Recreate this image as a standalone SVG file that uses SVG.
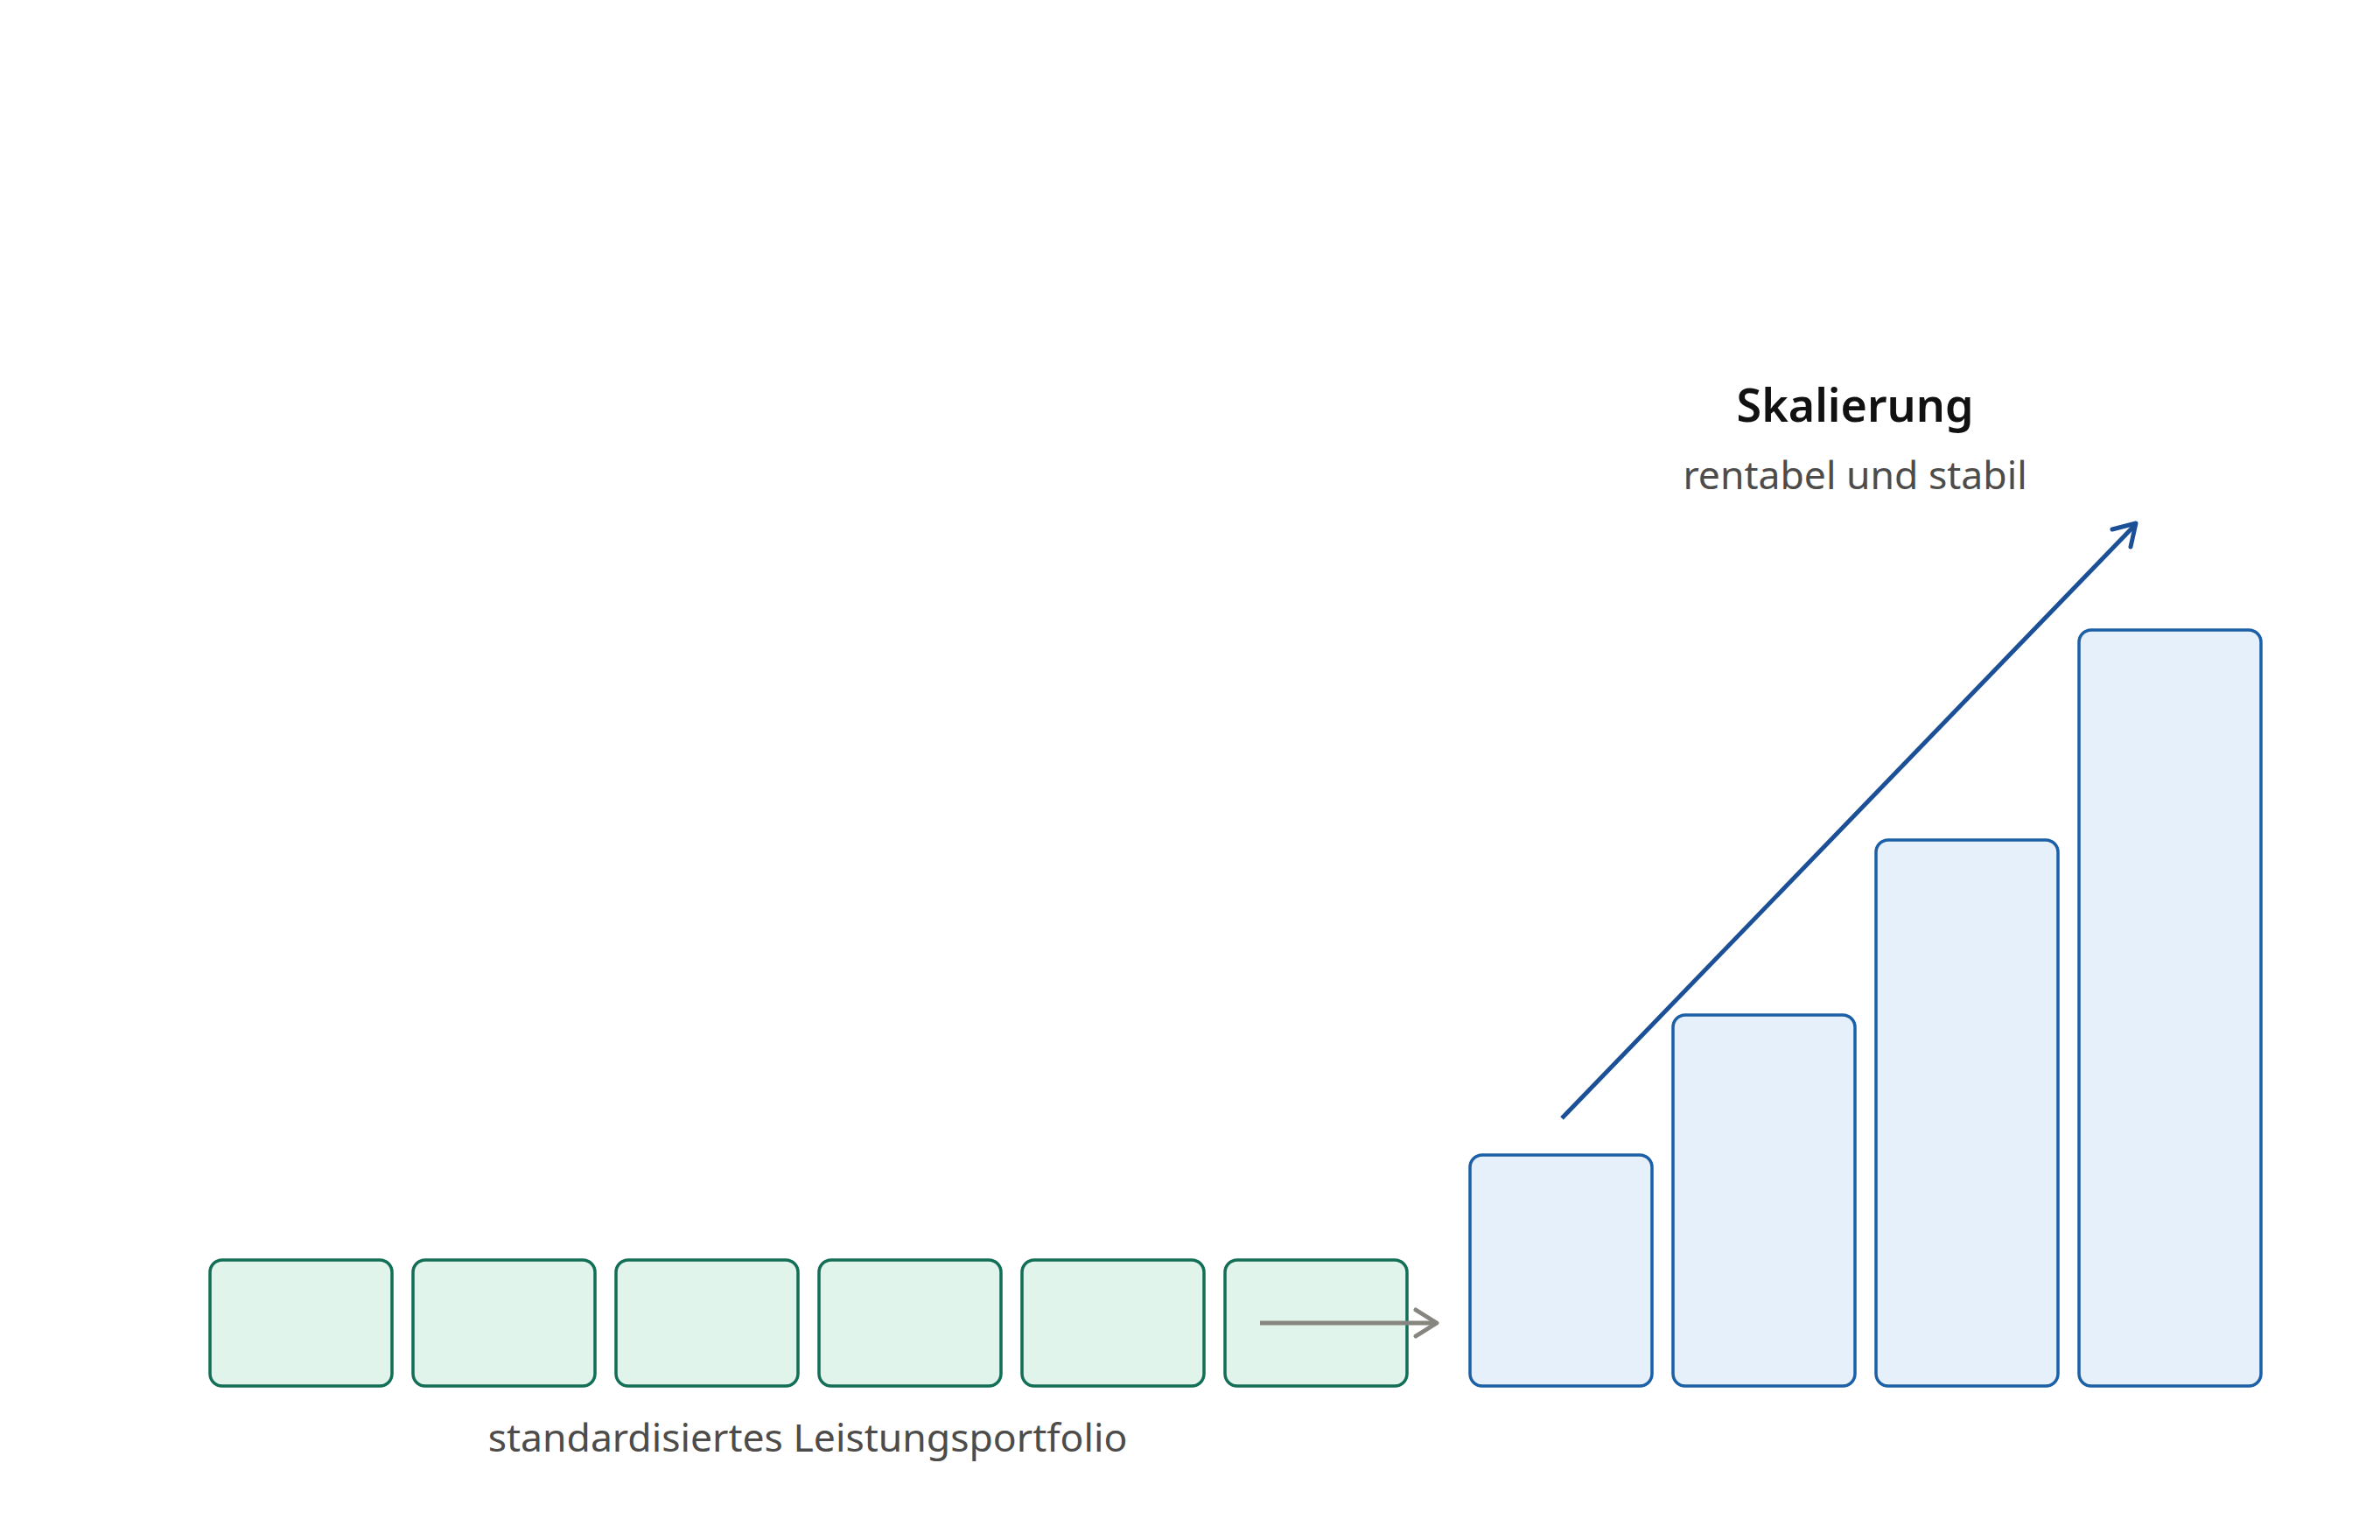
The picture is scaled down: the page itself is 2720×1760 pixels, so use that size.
<svg xmlns="http://www.w3.org/2000/svg" width="2720" height="1760" viewBox="0 0 2720 1760">
  <defs>
    <style>
      .g { fill: #e0f4ec; stroke: #126e54; stroke-width: 3.5; }
      .b { fill: #e6f0fa; stroke: #1b5fa7; stroke-width: 3.5; }
      .title { font-family: "Noto Sans", "Open Sans", sans-serif; font-weight: 600; font-size: 52px; fill: #111111; }
      .sub { font-family: "Noto Sans", "Open Sans", sans-serif; font-size: 44.5px; fill: #4d4c4a; }
    </style>
  </defs>
  <rect width="2720" height="1760" fill="#ffffff"/>
  <g id="portfolio">
    <rect id="p1" class="g" x="240" y="1440" width="208" height="144" rx="14"/>
    <rect id="p2" class="g" x="472" y="1440" width="208" height="144" rx="14"/>
    <rect id="p3" class="g" x="704" y="1440" width="208" height="144" rx="14"/>
    <rect id="p4" class="g" x="936" y="1440" width="208" height="144" rx="14"/>
    <rect id="p5" class="g" x="1168" y="1440" width="208" height="144" rx="14"/>
    <rect id="p6" class="g" x="1400" y="1440" width="208" height="144" rx="14"/>
  </g>
  <g id="bars">
    <rect id="b1" class="b" x="1680" y="1320" width="208" height="264" rx="14"/>
    <rect id="b2" class="b" x="1912" y="1160" width="208" height="424" rx="14"/>
    <rect id="b3" class="b" x="2144" y="960" width="208" height="624" rx="14"/>
    <rect id="b4" class="b" x="2376" y="720" width="208" height="864" rx="14"/>
  </g>
  <g id="connectors" fill="none" stroke-linecap="round" stroke-linejoin="round">
    <line x1="1440" y1="1512" x2="1641" y2="1512" stroke="#878580" stroke-width="5" stroke-linecap="butt"/>
    <path d="M1618,1497 L1642,1512 L1618,1527" stroke="#878580" stroke-width="5"/>
    <line x1="1785" y1="1278" x2="2440" y2="600" stroke="#1b4f96" stroke-width="5" stroke-linecap="butt"/>
    <path d="M2414,605 L2441,598 L2435,625" stroke="#1b4f96" stroke-width="5"/>
  </g>
  <g id="labels">
    <text class="title" x="2120" y="482" text-anchor="middle">Skalierung</text>
    <text class="sub" x="2120" y="559" text-anchor="middle">rentabel und stabil</text>
    <text class="sub" x="923" y="1659" text-anchor="middle">standardisiertes Leistungsportfolio</text>
  </g>
</svg>
